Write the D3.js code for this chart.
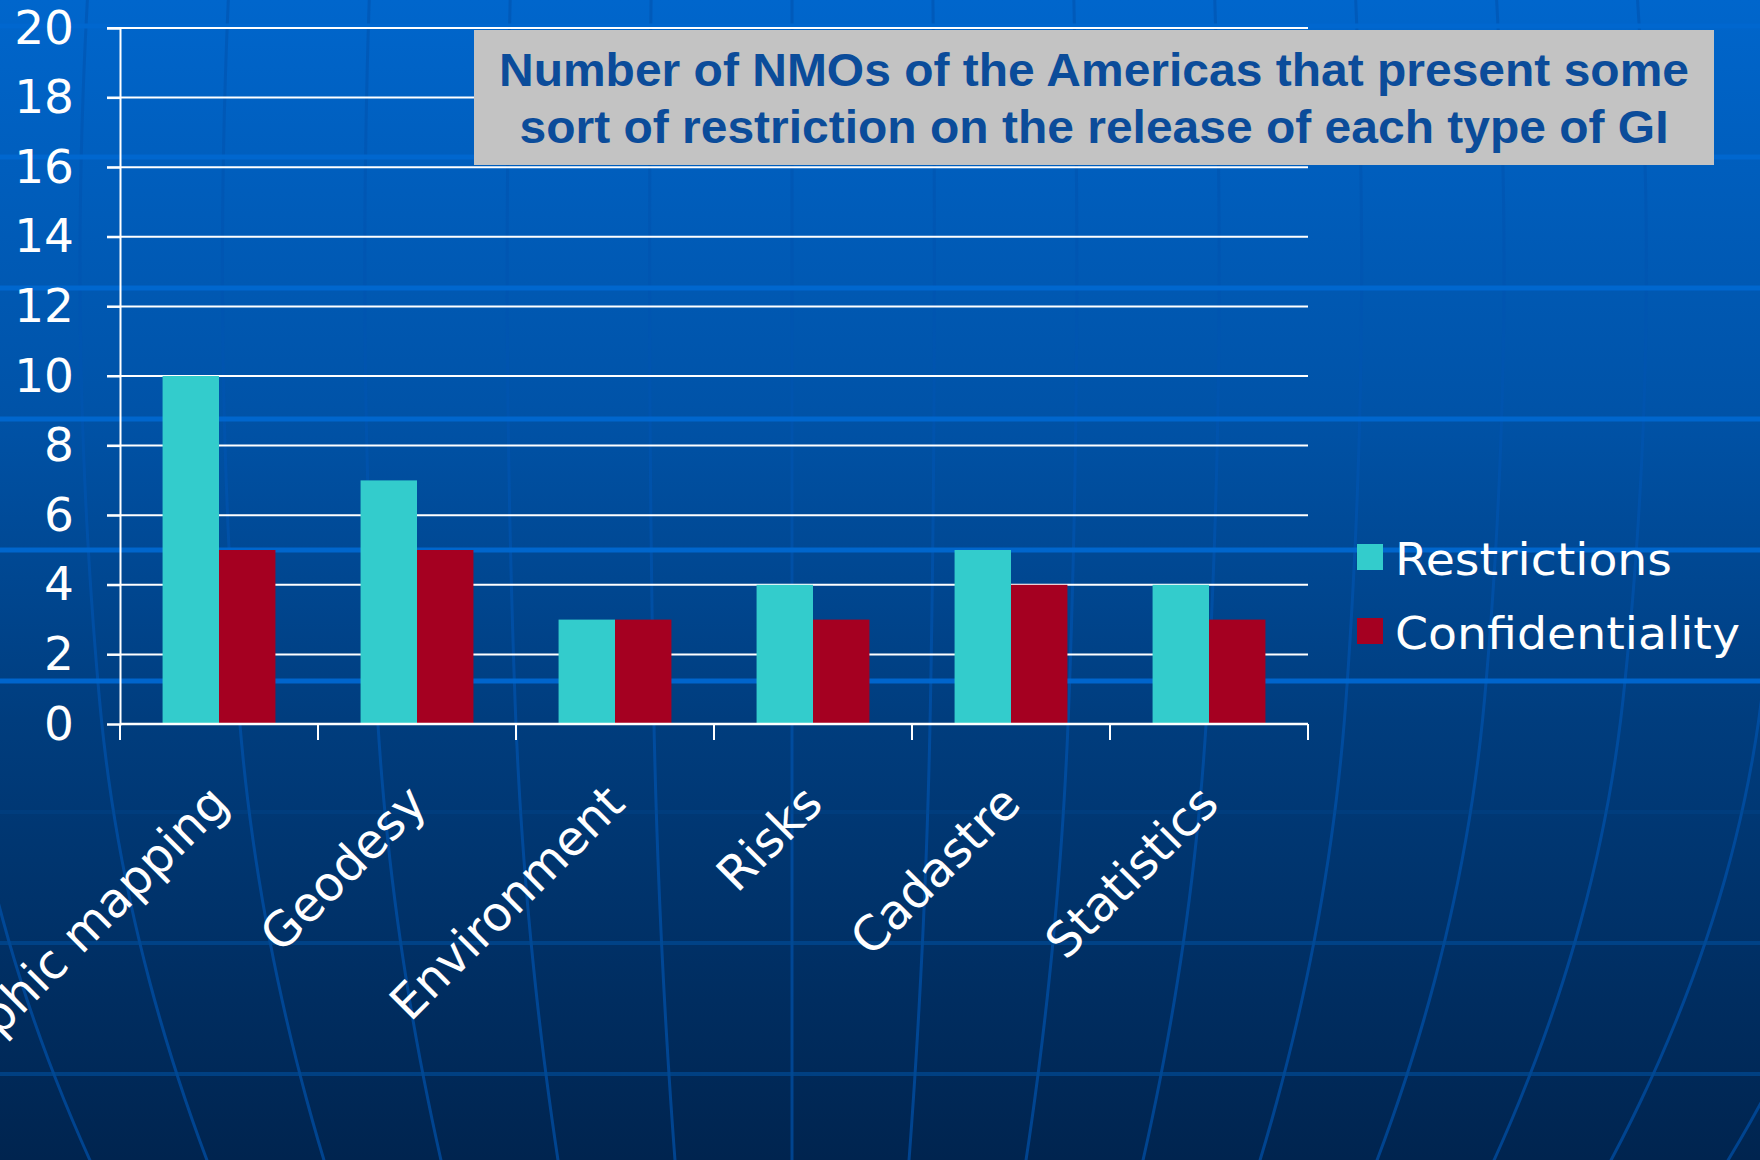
<!DOCTYPE html>
<html><head><meta charset="utf-8">
<script src="https://cdn.jsdelivr.net/npm/d3@7"></script>
<style>
html,body{margin:0;padding:0;background:#003c7c;}
svg{display:block;}
</style></head>
<body>
<svg id="chart" width="1760" height="1160"></svg>
<script>
const categories = ["Topographic mapping","Geodesy","Environment","Risks","Cadastre","Statistics"];
const seriesNames = ["Restrictions","Confidentiality"];
const restrictions = [10,7,3,4,5,4];
const confidentiality = [5,5,3,3,4,3];
const yTicks = [0,2,4,6,8,10,12,14,16,18,20];
const titleLines = ["Number of NMOs of the Americas that present some","sort of restriction on the release of each type of GI"];
const colors = ["#33CCCC","#A50021"];

const W = 1760, H = 1160;
const svg = d3.select("#chart");
const defs = svg.append("defs");
const grad = defs.append("linearGradient").attr("id","bg").attr("x1",0).attr("y1",0).attr("x2",0).attr("y2",1);
grad.append("stop").attr("offset","0%").attr("stop-color","#0066CC");
grad.append("stop").attr("offset","35%").attr("stop-color","#0053A8");
grad.append("stop").attr("offset","62%").attr("stop-color","#003D7E");
grad.append("stop").attr("offset","100%").attr("stop-color","#00244F");
svg.append("rect").attr("width",W).attr("height",H).attr("fill","url(#bg)");

// decorative globe lines (background texture)
const deco = svg.append("g");
const cxm = 792, sp = 138.5;
const meridK = d3.range(-7,9);
const sFn = yy => {
  const d = yy - 700;
  return d >= 0 ? 1 - 0.00013*d - 4.5e-7*d*d : 1 - 0.00013*d - 1.5e-7*d*d;
};
const line = d3.line().curve(d3.curveBasis);
deco.selectAll("path.m").data(meridK).join("path")
  .attr("d", k => line(d3.range(0, H+21, 20).map(yy => [cxm + sp*k*sFn(yy), yy])))
  .attr("fill","none").attr("stroke","#0055B0").attr("stroke-width",3).attr("opacity",0.65);
const hl = d3.range(-1,8).map(i => 157 + i*131);
deco.selectAll("line.h").data(hl).join("line")
  .attr("x1",0).attr("x2",W).attr("y1",d=>d).attr("y2",d=>d)
  .attr("stroke",d=> d<720 ? "#0068D0" : "#004A94")
  .attr("stroke-width",d=> d<720 ? 5 : 4)
  .attr("opacity",d=> d<720 ? 0.95 : (d<900 ? 0.3 : 0.7));

const x0 = 120, x1 = 1308, yTop = 28, yBot = 724;
const x = d3.scaleBand().domain(categories).range([x0,x1]).paddingInner(0).paddingOuter(0);
const xs = d3.scaleBand().domain(seriesNames).range([x.bandwidth()*0.215, x.bandwidth()*0.785]).padding(0);
const y = d3.scaleLinear().domain([0,20]).range([yBot,yTop]);

// gridlines
svg.append("g").selectAll("line").data(yTicks.filter(t=>t>0)).join("line")
  .attr("x1",x0-13).attr("x2",x1).attr("y1",d=>y(d)).attr("y2",d=>y(d))
  .attr("stroke","#ffffff").attr("stroke-width",2);

// y axis
const yAxis = d3.axisLeft(y).tickValues(yTicks).tickSize(13).tickPadding(33).tickFormat(d3.format("d"));
const ga = svg.append("g").attr("transform",`translate(${x0},0)`).call(yAxis);
ga.select(".domain").attr("stroke","#fff").attr("stroke-width",2);
ga.selectAll(".tick line").attr("stroke","#fff").attr("stroke-width",2);
ga.selectAll(".tick text").attr("fill","#fff").attr("font-family","DejaVu Sans, Verdana, sans-serif").attr("font-size",47);

// bars
const data = categories.map((c,i)=>({cat:c, vals:[restrictions[i],confidentiality[i]]}));
const grp = svg.append("g").selectAll("g").data(data).join("g").attr("transform",d=>`translate(${x(d.cat)},0)`);
grp.selectAll("rect").data(d=>d.vals.map((v,j)=>({name:seriesNames[j],v,j}))).join("rect")
  .attr("x",d=>xs(d.name)).attr("width",xs.bandwidth())
  .attr("y",d=>y(d.v)).attr("height",d=>y(0)-y(d.v))
  .attr("fill",d=>colors[d.j]);

// x axis
const xAxisG = svg.append("g").attr("transform",`translate(0,${yBot})`);
xAxisG.append("line").attr("x1",x0).attr("x2",x1).attr("y1",0).attr("y2",0).attr("stroke","#fff").attr("stroke-width",2.5);
const bounds = categories.map(c=>x(c)).concat([x1]);
xAxisG.selectAll("line.t").data(bounds).join("line").attr("class","t")
  .attr("x1",d=>d).attr("x2",d=>d).attr("y1",0).attr("y2",16).attr("stroke","#fff").attr("stroke-width",2);
xAxisG.selectAll("text").data(categories).join("text")
  .attr("transform",d=>`translate(${x(d)+x.bandwidth()/2+12},${82}) rotate(-45)`)
  .attr("text-anchor","end")
  .attr("fill","#fff").attr("font-family","DejaVu Sans, Verdana, sans-serif").attr("font-size",48)
  .text(d=>d);

// title box
const tb = svg.append("g");
tb.append("rect").attr("x",474).attr("y",30).attr("width",1240).attr("height",135).attr("fill","#C3C3C3");
const tLens = [1190,1149];
tb.selectAll("text").data(titleLines).join("text")
  .attr("x",1094).attr("y",(d,i)=>86+i*57)
  .attr("text-anchor","middle").attr("fill","#0B4C9A")
  .attr("font-family","Liberation Sans, Arial, sans-serif").attr("font-weight","bold").attr("font-size",47)
  .attr("textLength",(d,i)=>tLens[i]).attr("lengthAdjust","spacingAndGlyphs")
  .text(d=>d);

// legend
const lg = svg.append("g").attr("transform","translate(1357,544)");
const li = lg.selectAll("g").data(seriesNames).join("g").attr("transform",(d,i)=>`translate(0,${i*74})`);
li.append("rect").attr("width",26).attr("height",26).attr("fill",(d,i)=>colors[i]);
li.append("text").attr("x",38).attr("y",31).attr("fill","#fff")
  .attr("font-family","DejaVu Sans, Verdana, sans-serif").attr("font-size",44)
  .attr("textLength",(d,i)=>[277,345][i]).attr("lengthAdjust","spacingAndGlyphs")
  .text(d=>d);
</script>
</body></html>
